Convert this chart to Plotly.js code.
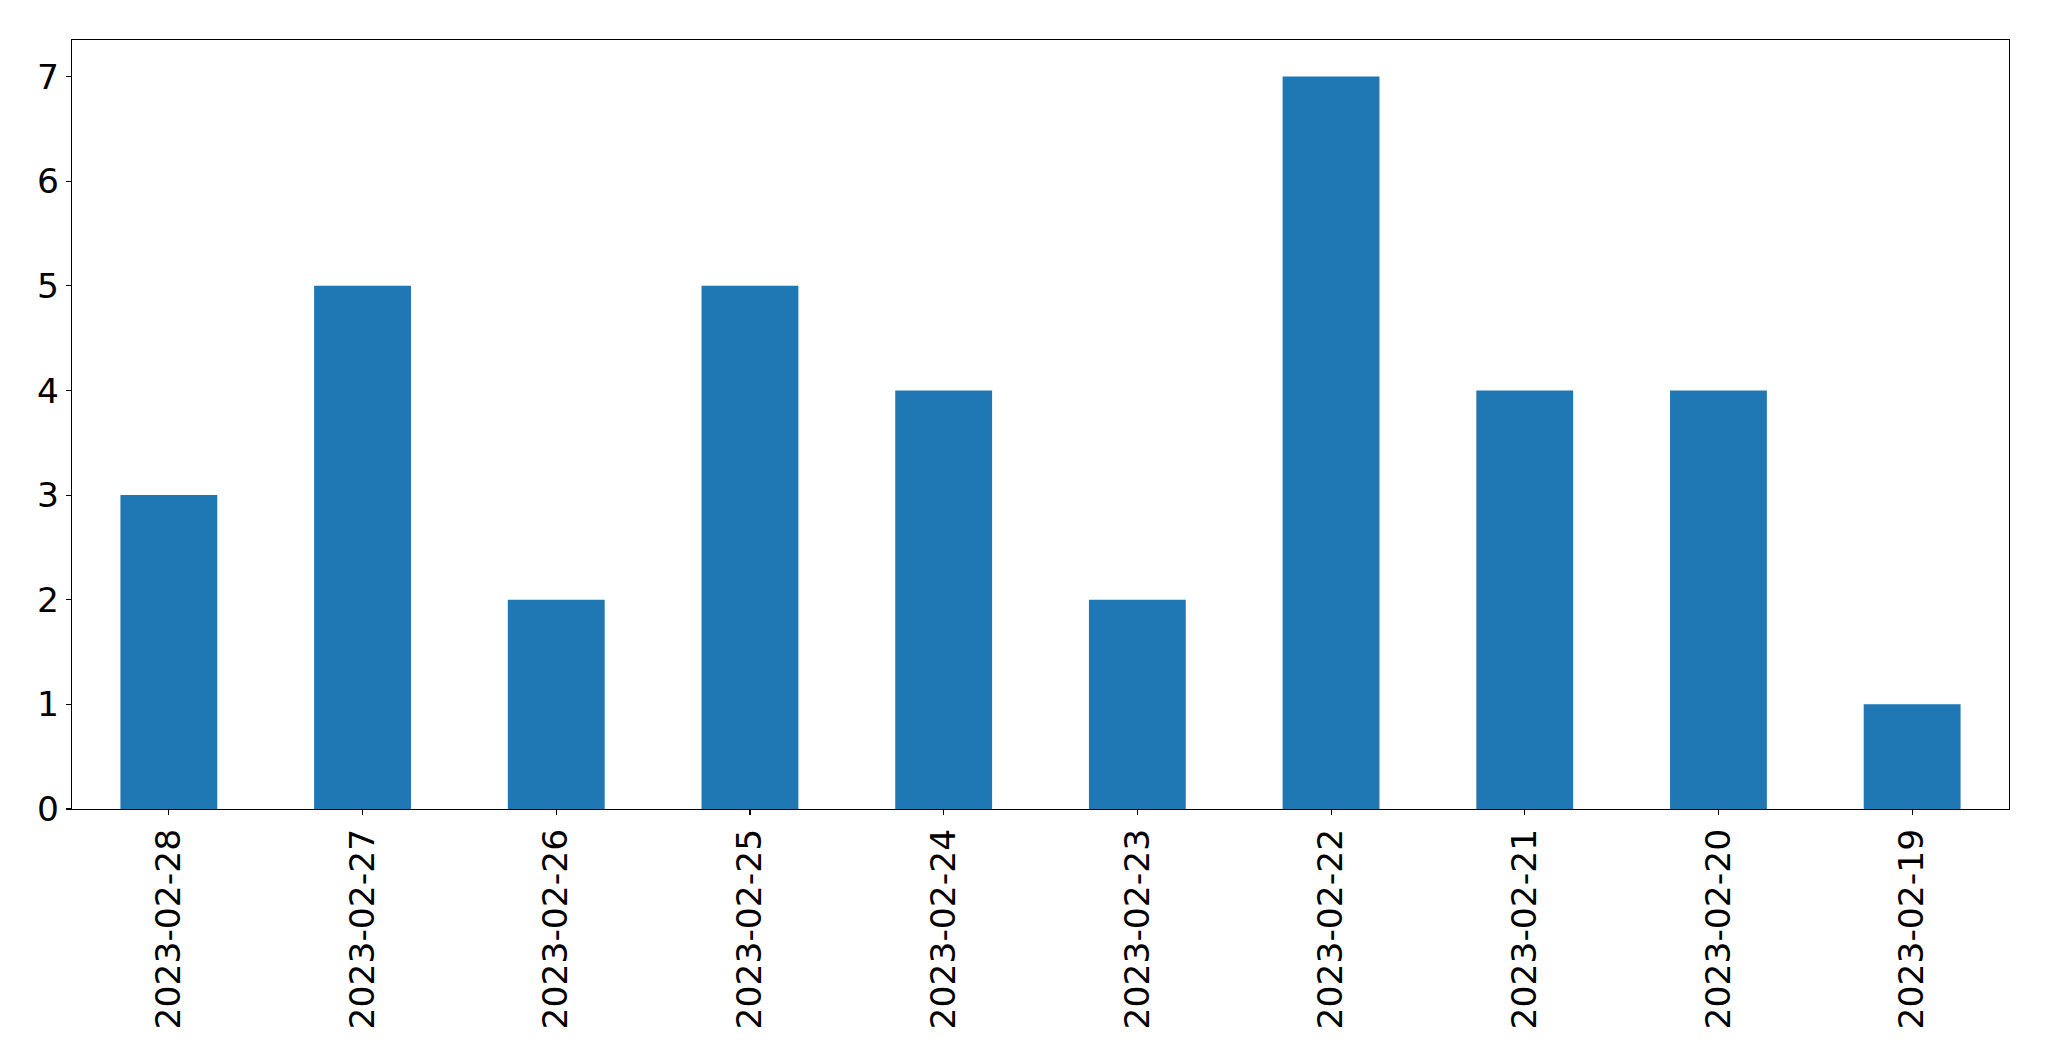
<!DOCTYPE html>
<html>
<head>
<meta charset="utf-8">
<script src="https://cdn.plot.ly/plotly-3.0.1.min.js"></script>
<style>html,body{margin:0;padding:0;background:#fff;}#chart{width:2049px;height:1061px;}</style>
</head>
<body>
<div id="chart"></div>
<script>
const dates = ["2023-02-28","2023-02-27","2023-02-26","2023-02-25","2023-02-24","2023-02-23","2023-02-22","2023-02-21","2023-02-20","2023-02-19"];
const counts = [3,5,2,5,4,2,7,4,4,1];
const yTicks = [0,1,2,3,4,5,6,7];

const font = {family: "DejaVu Sans", size: 34.5, color: "#000"};
Plotly.newPlot("chart", [{
  type: "bar",
  x: dates,
  y: counts,
  marker: {color: "#1f77b4", line: {width: 0}},
  hoverinfo: "x+y"
}], {
  width: 2049, height: 1061,
  margin: {l: 72, r: 40, t: 39.5, b: 252, pad: 0},
  paper_bgcolor: "#fff", plot_bgcolor: "#fff",
  bargap: 0.5,
  showlegend: false,
  font: font,
  xaxis: {
    type: "category",
    range: [-0.5, 9.5],
    tickangle: -90,
    ticks: "outside", ticklen: 5, tickwidth: 1.1, tickcolor: "#000",
    showline: true, linecolor: "#000", linewidth: 1.1, mirror: true,
    showgrid: false, zeroline: false,
    tickfont: font,
    ticklabelstandoff: 0
  },
  yaxis: {
    range: [0, 7.35],
    tickvals: yTicks,
    ticktext: yTicks.map(String),
    ticks: "outside", ticklen: 5, tickwidth: 1.1, tickcolor: "#000",
    showline: true, linecolor: "#000", linewidth: 1.1, mirror: true,
    showgrid: false, zeroline: false,
    tickfont: font
  }
}, {staticPlot: true});
</script>
</body>
</html>
